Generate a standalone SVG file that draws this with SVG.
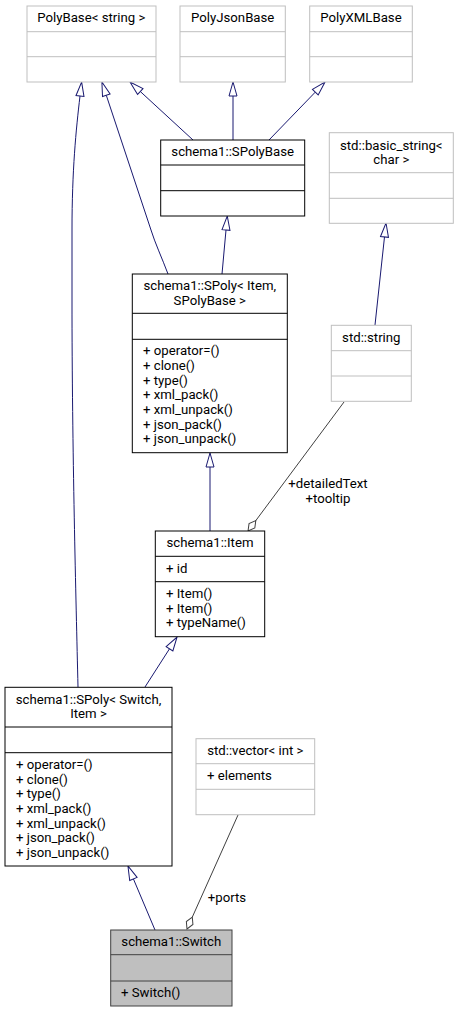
<svg xmlns="http://www.w3.org/2000/svg" width="459" height="1012" viewBox="0 0 459 1012">
<style>
text{font-family:Roboto,"Liberation Sans",Arial,sans-serif;font-size:13.2px;fill:#000}
.h{text-anchor:middle}
.ext rect,.ext line{fill:#fff;stroke:#bfbfbf;stroke-width:1}
.cls rect,.cls line{fill:#fff;stroke:#000;stroke-width:1}
.foc rect,.foc line{fill:#bfbfbf;stroke:#404040;stroke-width:1}
.inh{fill:none;stroke:#191970;stroke-width:1}
.agg{fill:none;stroke:#404040;stroke-width:1}
</style>
<defs>
<marker id="tri" markerUnits="userSpaceOnUse" markerWidth="16" markerHeight="12" viewBox="0 -6 16 12" refX="0" refY="0" orient="auto" overflow="visible">
<path d="M0,-4 L14,0 L0,4 Z" fill="#fff" stroke="#191970" stroke-width="1"/>
</marker>
<marker id="dia" markerUnits="userSpaceOnUse" markerWidth="16" markerHeight="10" viewBox="0 -5 16 10" refX="0" refY="0" orient="auto" overflow="visible">
<path d="M0,0 L6.5,-3.6 L13,0 L6.5,3.6 Z" fill="#fff" stroke="#404040" stroke-width="1"/>
</marker>
</defs>
<rect width="459" height="1012" fill="#fff"/>
<g id="connectors">
<path class="inh" marker-end="url(#tri)" d="M78,687 C76,600 72,450 72,300 L72,230 C72,170 76,130 80,96"/>
<path class="inh" marker-end="url(#tri)" d="M168,274 C162,258 155,243 151,230 L106.3,95.3"/>
<path class="inh" marker-end="url(#tri)" d="M193,140 L140.3,91.5"/>
<path class="inh" marker-end="url(#tri)" d="M233,140 L233,96"/>
<path class="inh" marker-end="url(#tri)" d="M269,140 L315.3,92.1"/>
<path class="inh" marker-end="url(#tri)" d="M222,274 L226,230"/>
<path class="inh" marker-end="url(#tri)" d="M375,325 L384.5,236.9"/>
<path class="inh" marker-end="url(#tri)" d="M210,531 L210,467"/>
<path class="inh" marker-end="url(#tri)" d="M145,687 L169.5,648.8"/>
<path class="inh" marker-end="url(#tri)" d="M155,930 L133.4,878.9"/>
<path class="agg" marker-end="url(#dia)" d="M344,402 L255.8,520.6"/>
<path class="agg" marker-end="url(#dia)" d="M238,815 L192.3,917.1"/>
<text class="h" x="328" y="488">+detailedText</text>
<text class="h" x="328" y="503">+tooltip</text>
<text class="h" x="227" y="901.6">+ports</text>
</g>
<g id="PolyBase_string" class="ext">
<rect x="27" y="6" width="129" height="76"/>
<line x1="27" y1="31.7" x2="156" y2="31.7"/>
<line x1="27" y1="56.7" x2="156" y2="56.7"/>
<text class="h" x="91.3" y="22">PolyBase&lt; string &gt;</text>
</g>
<g id="PolyJsonBase" class="ext">
<rect x="180" y="6" width="105.3" height="76"/>
<line x1="180" y1="31.7" x2="285.3" y2="31.7"/>
<line x1="180" y1="56.7" x2="285.3" y2="56.7"/>
<text class="h" x="232.7" y="22">PolyJsonBase</text>
</g>
<g id="PolyXMLBase" class="ext">
<rect x="309.7" y="6" width="102.6" height="76"/>
<line x1="309.7" y1="31.7" x2="412.3" y2="31.7"/>
<line x1="309.7" y1="56.7" x2="412.3" y2="56.7"/>
<text class="h" x="361" y="22">PolyXMLBase</text>
</g>
<g id="SPolyBase" class="cls">
<rect x="160.7" y="140" width="144" height="76"/>
<line x1="160.7" y1="165" x2="304.7" y2="165"/>
<line x1="160.7" y1="190.7" x2="304.7" y2="190.7"/>
<text class="h" x="232.7" y="156.3">schema1::SPolyBase</text>
</g>
<g id="basic_string_char" class="ext">
<rect x="329.3" y="132.7" width="124" height="90.6"/>
<line x1="329.3" y1="172.7" x2="453.3" y2="172.7"/>
<line x1="329.3" y1="198.3" x2="453.3" y2="198.3"/>
<text class="h" x="391.3" y="149.6">std::basic_string&lt;</text>
<text class="h" x="391.3" y="163.6">char &gt;</text>
</g>
<g id="SPoly_Item_SPolyBase" class="cls">
<rect x="132.3" y="274" width="155" height="178.7"/>
<line x1="132.3" y1="313.3" x2="287.3" y2="313.3"/>
<line x1="132.3" y1="339.3" x2="287.3" y2="339.3"/>
<text class="h" x="209.8" y="290.3">schema1::SPoly&lt; Item,</text>
<text class="h" x="209.8" y="304.6">SPolyBase &gt;</text>
<text x="143" y="355.3">+ operator=()</text>
<text x="143" y="370">+ clone()</text>
<text x="143" y="384.6">+ type()</text>
<text x="143" y="399.3">+ xml_pack()</text>
<text x="143" y="413.9">+ xml_unpack()</text>
<text x="143" y="428.6">+ json_pack()</text>
<text x="143" y="443.2">+ json_unpack()</text>
</g>
<g id="std_string" class="ext">
<rect x="331.3" y="325.3" width="80" height="76"/>
<line x1="331.3" y1="350.7" x2="411.3" y2="350.7"/>
<line x1="331.3" y1="376" x2="411.3" y2="376"/>
<text class="h" x="371.3" y="342">std::string</text>
</g>
<g id="Item" class="cls">
<rect x="155.3" y="531" width="109.4" height="105.7"/>
<line x1="155.3" y1="556.3" x2="264.7" y2="556.3"/>
<line x1="155.3" y1="581.7" x2="264.7" y2="581.7"/>
<text class="h" x="210" y="547.3">schema1::Item</text>
<text x="166" y="573">+ id</text>
<text x="166" y="598">+ Item()</text>
<text x="166" y="612.6">+ Item()</text>
<text x="166" y="627.3">+ typeName()</text>
</g>
<g id="SPoly_Switch_Item" class="cls">
<rect x="5" y="687.3" width="167" height="178.7"/>
<line x1="5" y1="727" x2="172" y2="727"/>
<line x1="5" y1="752.7" x2="172" y2="752.7"/>
<text class="h" x="88.5" y="703.6">schema1::SPoly&lt; Switch,</text>
<text class="h" x="88.5" y="718">Item &gt;</text>
<text x="16" y="769">+ operator=()</text>
<text x="16" y="783.6">+ clone()</text>
<text x="16" y="798.2">+ type()</text>
<text x="16" y="812.9">+ xml_pack()</text>
<text x="16" y="827.5">+ xml_unpack()</text>
<text x="16" y="842.2">+ json_pack()</text>
<text x="16" y="856.8">+ json_unpack()</text>
</g>
<g id="vector_int" class="ext">
<rect x="196" y="738.7" width="118.7" height="76"/>
<line x1="196" y1="763.7" x2="314.7" y2="763.7"/>
<line x1="196" y1="789.3" x2="314.7" y2="789.3"/>
<text class="h" x="255.3" y="755">std::vector&lt; int &gt;</text>
<text x="207" y="780.3">+ elements</text>
</g>
<g id="Switch" class="foc">
<rect x="110.7" y="930" width="121.3" height="76"/>
<line x1="110.7" y1="954.7" x2="232" y2="954.7"/>
<line x1="110.7" y1="981" x2="232" y2="981"/>
<text class="h" x="171.3" y="946.3">schema1::Switch</text>
<text x="121" y="997">+ Switch()</text>
</g>
</svg>
